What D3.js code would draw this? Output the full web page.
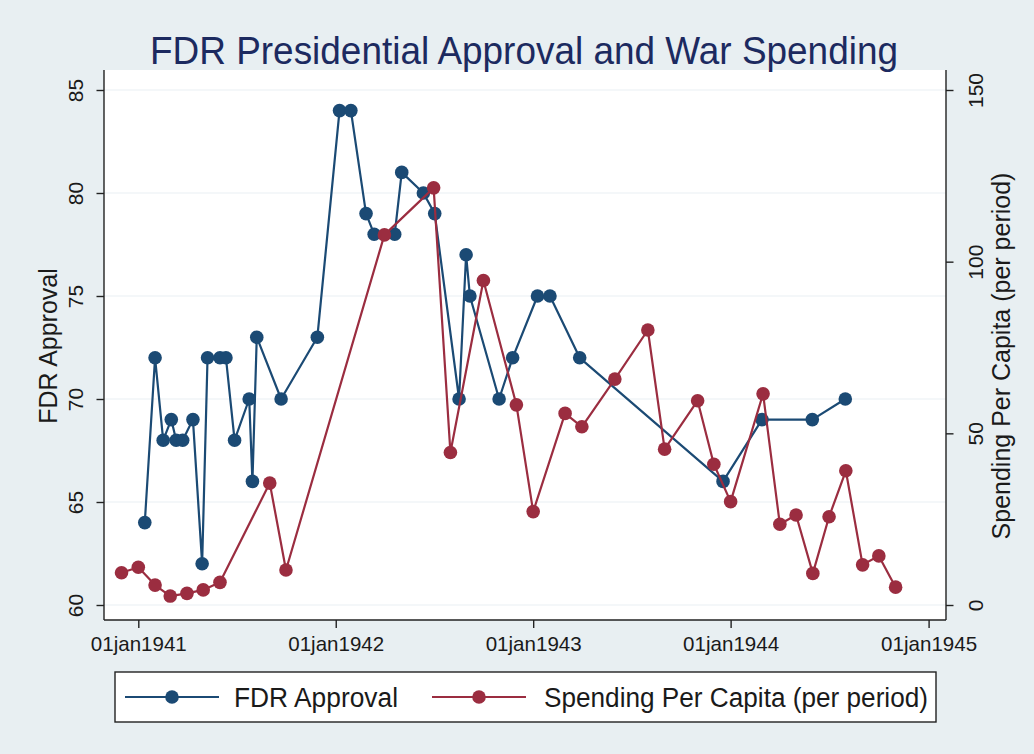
<!DOCTYPE html>
<html>
<head>
<meta charset="utf-8">
<script src="https://cdn.jsdelivr.net/npm/d3@7"></script>
<style>
    body { margin: 0; background: #e8eff2; }
    svg { display: block; font-family: "Liberation Sans", Arial, Helvetica, sans-serif; }
</style>
</head>
<body>
<svg id="chart" width="1034" height="754"></svg>
<script>
// FDR approval (Gallup polls), left axis
var approvalDates = [
    '1941-01-13', '1941-02-01', '1941-02-16', '1941-03-03', '1941-03-12', '1941-03-24',
    '1941-04-12', '1941-04-29', '1941-05-09', '1941-06-01', '1941-06-12', '1941-06-28',
    '1941-07-25', '1941-07-31', '1941-08-08', '1941-09-22', '1941-11-28',
    '1942-01-08', '1942-01-29', '1942-02-26', '1942-03-13', '1942-04-20', '1942-05-03',
    '1942-06-12', '1942-07-03', '1942-08-17', '1942-08-30', '1942-09-06', '1942-10-30',
    '1942-11-24', '1943-01-09', '1943-02-01', '1943-03-28', '1943-12-18',
    '1944-02-28', '1944-05-31', '1944-07-31'
];
var approvalValues = [
    64, 72, 68, 69, 68, 68,
    69, 62, 72, 72, 72, 68,
    70, 66, 73, 70, 73,
    84, 84, 79, 78, 78, 81,
    80, 79, 70, 77, 75, 70,
    72, 75, 75, 72, 66,
    69, 69, 70
];

// war spending per capita, right axis
var spendingDates = [
    '1940-12-01', '1941-01-01', '1941-02-01', '1941-03-01', '1941-04-01', '1941-05-01',
    '1941-06-01', '1941-09-01', '1941-10-01', '1942-04-01', '1942-07-01', '1942-08-01',
    '1942-10-01', '1942-12-01', '1943-01-01', '1943-03-01', '1943-04-01', '1943-06-01',
    '1943-08-01', '1943-09-01', '1943-11-01', '1943-12-01', '1944-01-01', '1944-03-01',
    '1944-04-01', '1944-05-01', '1944-06-01', '1944-07-01', '1944-08-01', '1944-09-01',
    '1944-10-01', '1944-11-01'
];
var spendingValues = [
    9.4, 11.0, 5.8, 2.6, 3.4, 4.4,
    6.6, 35.5, 10.2, 107.8, 121.5, 44.4,
    94.5, 58.3, 27.2, 55.8, 51.9, 65.8,
    80.1, 45.4, 59.5, 41.0, 30.1, 61.5,
    23.5, 26.2, 9.2, 25.7, 39.1, 11.7,
    14.3, 5.2
];

var xTicks = ['1941-01-01', '1942-01-01', '1943-01-01', '1944-01-01', '1945-01-01'];
var leftTicks = [60, 65, 70, 75, 80, 85];
var rightTicks = [0, 50, 100, 150];

var colors = {
    approval: '#1b4a74',
    spending: '#9b2d40',
    title: '#1c2a60',
    text: '#1a1a1a',
    grid: '#e9f0f3'
};

var parseDate = d3.utcParse('%Y-%m-%d');
var fmtDate = d3.utcFormat('%d%b%Y');

var plot = { left: 104, right: 946, top: 70, bottom: 620 };

var svg = d3.select('#chart');

var x = d3.scaleUtc()
    .domain([parseDate(xTicks[0]), parseDate(xTicks[xTicks.length - 1])])
    .range([138.3, 928.6]);
var yLeft = d3.scaleLinear().domain([60, 85]).range([605, 90]);
var yRight = d3.scaleLinear().domain([0, 150]).range([605, 90]);

// plot region
svg.append('rect')
    .attr('x', plot.left)
    .attr('y', plot.top)
    .attr('width', plot.right - plot.left)
    .attr('height', plot.bottom - plot.top)
    .attr('fill', '#fff');

// grid
svg.append('g')
    .selectAll('line')
    .data(leftTicks)
    .join('line')
    .attr('x1', plot.left)
    .attr('x2', plot.right)
    .attr('y1', function(d) { return yLeft(d); })
    .attr('y2', function(d) { return yLeft(d); })
    .attr('stroke', colors.grid)
    .attr('stroke-width', 1.2);

// title
svg.append('text')
    .attr('x', 524)
    .attr('y', 64)
    .attr('text-anchor', 'middle')
    .attr('font-size', 38)
    .attr('textLength', 748)
    .attr('lengthAdjust', 'spacingAndGlyphs')
    .attr('fill', colors.title)
    .text('FDR Presidential Approval and War Spending');

// x axis
var xAxis = svg.append('g')
    .attr('transform', 'translate(0,' + plot.bottom + ')')
    .call(d3.axisBottom(x)
        .tickValues(xTicks.map(parseDate))
        .tickFormat(function(d) { return fmtDate(d).toLowerCase(); })
        .tickSize(8)
        .tickSizeOuter(0));
xAxis.select('.domain')
    .attr('d', 'M' + plot.left + ',0H' + plot.right);
xAxis.selectAll('text')
    .attr('y', 31)
    .attr('dy', 0)
    .attr('font-size', 21)
    .attr('textLength', 96)
    .attr('lengthAdjust', 'spacingAndGlyphs')
    .attr('fill', colors.text);

// left axis
var leftAxis = svg.append('g')
    .attr('transform', 'translate(' + plot.left + ',0)')
    .call(d3.axisLeft(yLeft).tickValues(leftTicks).tickSize(7.5).tickSizeOuter(0));
leftAxis.select('.domain')
    .attr('d', 'M0,' + plot.top + 'V' + plot.bottom);
leftAxis.selectAll('text')
    .attr('transform', 'rotate(-90)')
    .attr('x', 0)
    .attr('y', -21)
    .attr('dy', 0)
    .attr('text-anchor', 'middle')
    .attr('font-size', 21)
    .attr('fill', colors.text);

// right axis
var rightAxis = svg.append('g')
    .attr('transform', 'translate(' + plot.right + ',0)')
    .call(d3.axisRight(yRight).tickValues(rightTicks).tickSize(7.5).tickSizeOuter(0));
rightAxis.select('.domain')
    .attr('d', 'M0,' + plot.top + 'V' + plot.bottom);
rightAxis.selectAll('text')
    .attr('transform', 'rotate(-90)')
    .attr('x', 0)
    .attr('y', 37)
    .attr('dy', 0)
    .attr('text-anchor', 'middle')
    .attr('font-size', 21)
    .attr('fill', colors.text);

svg.selectAll('.domain, .tick line')
    .attr('stroke', '#222')
    .attr('stroke-width', 1.4);

// axis titles
svg.append('text')
    .attr('transform', 'translate(57,346) rotate(-90)')
    .attr('text-anchor', 'middle')
    .attr('font-size', 25)
    .attr('fill', colors.text)
    .text('FDR Approval');
svg.append('text')
    .attr('transform', 'translate(1010,356) rotate(-90)')
    .attr('text-anchor', 'middle')
    .attr('font-size', 25)
    .attr('fill', colors.text)
    .text('Spending Per Capita (per period)');

function drawSeries(dates, values, yScale, color) {
    var pts = dates.map(function(d, i) {
        return { date: parseDate(d), value: values[i] };
    });
    var g = svg.append('g');
    g.append('path')
        .datum(pts)
        .attr('fill', 'none')
        .attr('stroke', color)
        .attr('stroke-width', 2.2)
        .attr('stroke-linejoin', 'round')
        .attr('d', d3.line()
            .x(function(d) { return x(d.date); })
            .y(function(d) { return yScale(d.value); }));
    g.selectAll('circle')
        .data(pts)
        .join('circle')
        .attr('cx', function(d) { return x(d.date); })
        .attr('cy', function(d) { return yScale(d.value); })
        .attr('r', 6.8)
        .attr('fill', color);
}

drawSeries(approvalDates, approvalValues, yLeft, colors.approval);
drawSeries(spendingDates, spendingValues, yRight, colors.spending);

// legend
var legendItems = [
    { label: 'FDR Approval', color: colors.approval, x: 125, textX: 234, textLen: 164 },
    { label: 'Spending Per Capita (per period)', color: colors.spending, x: 432, textX: 544, textLen: 384 }
];
var legend = svg.append('g');
legend.append('rect')
    .attr('x', 115)
    .attr('y', 672)
    .attr('width', 821)
    .attr('height', 50)
    .attr('fill', '#fff')
    .attr('stroke', '#222')
    .attr('stroke-width', 1.4);
legendItems.forEach(function(it) {
    legend.append('line')
        .attr('x1', it.x)
        .attr('x2', it.x + 94)
        .attr('y1', 697)
        .attr('y2', 697)
        .attr('stroke', it.color)
        .attr('stroke-width', 2.2);
    legend.append('circle')
        .attr('cx', it.x + 47)
        .attr('cy', 697)
        .attr('r', 6.8)
        .attr('fill', it.color);
    legend.append('text')
        .attr('x', it.textX)
        .attr('y', 707)
        .attr('font-size', 27)
        .attr('textLength', it.textLen)
        .attr('lengthAdjust', 'spacingAndGlyphs')
        .attr('fill', colors.text)
        .text(it.label);
});
</script>
</body>
</html>
